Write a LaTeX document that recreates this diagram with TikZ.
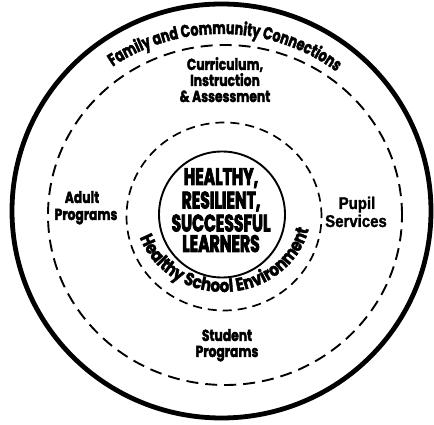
\documentclass[tikz,border=0pt]{standalone}
\usepackage{fontspec}
\usetikzlibrary{decorations.text}
\newfontfamily\corefont{Poppins}[FakeStretch=0.65, FakeBold=3]
\newfontfamily\labelfont{Poppins}[FakeStretch=0.77, FakeBold=2.2]
\newfontfamily\ringfont{Poppins}[FakeStretch=0.72, FakeBold=2.2]
\newfontfamily\arcfont{Poppins}[FakeStretch=0.84, FakeBold=2.2]
\newfontfamily\plainfont{Liberation Sans}[FakeStretch=0.88, FakeBold=1.5]

\begin{document}
\begin{tikzpicture}[x=1pt,y=1pt,
  outerring/.style={line width=4.8pt},
  midring/.style={line width=1.9pt, dash pattern=on 12pt off 7pt},
  innerring/.style={line width=1.7pt, dash pattern=on 9pt off 6pt},
  corering/.style={line width=1.9pt},
  coretext/.style={anchor=base, inner sep=0pt, font=\corefont\bfseries\fontsize{24}{24}\selectfont},
  areatext/.style={anchor=base, inner sep=0pt, font=\labelfont\bfseries\fontsize{16}{16}\selectfont},
  servicetext/.style={anchor=base, inner sep=0pt, font=\plainfont\bfseries\fontsize{17}{17}\selectfont}
]
\useasboundingbox (0,0) rectangle (434,425);

% rings
\draw[outerring] (221.5,214) ellipse [x radius=209.5, y radius=207];
\draw[midring]   (225,210) ellipse [x radius=177, y radius=170];
\draw[innerring] (224,208.5) ellipse [x radius=97.5, y radius=94];
\draw[corering]  (222,210.5) circle [radius=63];

% centre
\node[coretext] (c1) at (221,240) {HEALTHY,};
\node[coretext] (c2) at (221,216.5) {RESILIENT,};
\node[coretext] (c3) at (221,193.5) {SUCCESSFUL};
\node[coretext] (c4) at (221,173) {LEARNERS};

% components
\node[areatext] (cur1) at (225,355) {Curriculum,};
\node[areatext] (cur2) at (225,339) {Instruction};
\node[areatext] (cur3) at (225,323) {\& Assessment};

\node[areatext] (ad1) at (82,222) {Adult};
\node[areatext] (ad2) at (86,205) {Programs};

\node[servicetext] (pu1) at (357,216) {Pupil};
\node[servicetext] (pu2) at (356,198) {Services};

\node[areatext] (st1) at (227,84) {Student};
\node[areatext] (st2) at (227,68) {Programs};

% curved ring captions
\path[decorate, decoration={text along path, text align=center,
  text={|\ringfont\bfseries\fontsize{17.5}{17.5}\selectfont|Family and Community Connections}}]
  (221,214) ++(148:187 and 177) arc[start angle=148, end angle=29.2, x radius=187, y radius=177];

\path[decorate, decoration={text along path, text align=center,
  text={|\arcfont\bfseries\fontsize{18}{18}\selectfont|Healthy School Environment}}]
  (223,214) ++(186:88 and 81) arc[start angle=186, end angle=360, x radius=88, y radius=81];
\end{tikzpicture}
\end{document}
